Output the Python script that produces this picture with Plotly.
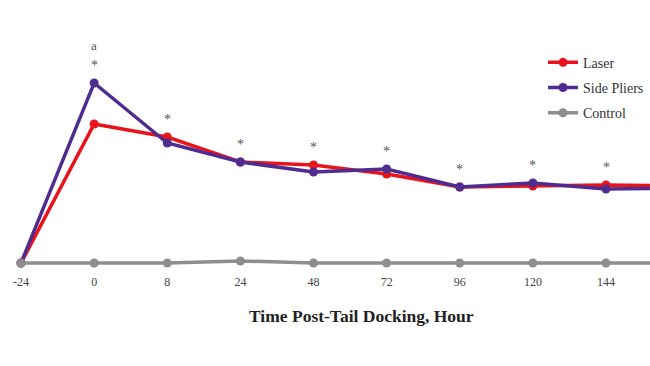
import plotly.graph_objects as go

categories = ["-24", "0", "8", "24", "48", "72", "96", "120", "144", "168"]
laser = [0, 139, 126, 101, 98, 89, 76, 77, 78, 77]
side_pliers = [0, 180, 120, 101, 91, 94, 76, 80, 74, 75]
control = [0, 0, 0, 2, 0, 0, 0, 0, 0, 0]
star_labels = ["", "*", "*", "*", "*", "*", "*", "*", "*", ""]
letter_labels = ["", "a", "", "", "", "", "", "", "", ""]
x_title = "Time Post-Tail Docking, Hour"

xs = list(range(len(categories)))
FONT = "Liberation Serif"
W, H = 650, 366

fig = go.Figure()
series = [
    ("Laser", laser, "#e8141c"),
    ("Side Pliers", side_pliers, "#4f2c8f"),
    ("Control", control, "#8e8e8e"),
]
for name, vals, col in series:
    fig.add_trace(go.Scatter(
        x=xs, y=vals, name=name, mode="lines+markers", legendgroup=name,
        line=dict(color=col, width=3.5),
        marker=dict(color=col, size=9),
    ))

for i, (s, a) in enumerate(zip(star_labels, letter_labels)):
    top = max(laser[i], side_pliers[i])
    if s:
        fig.add_annotation(x=i, y=top, text=s, showarrow=False, yshift=18,
                           font=dict(family=FONT, size=14, color="#555555"))
    if a:
        fig.add_annotation(x=i, y=top, text=a, showarrow=False, yshift=38,
                           font=dict(family=FONT, size=13, color="#555555"))

fig.add_annotation(xref="paper", yref="paper", x=361 / W, y=-46 / 250,
                   text="<b>" + x_title + "</b>", showarrow=False,
                   xanchor="center", yanchor="middle",
                   font=dict(family=FONT, size=17.5, color="#222222"))

fig.update_layout(
    width=W, height=H,
    margin=dict(l=0, r=0, t=20, b=96, autoexpand=False),
    paper_bgcolor="white", plot_bgcolor="white",
    font=dict(family=FONT, color="#333333"),
    showlegend=True,
    legend=dict(x=543 / W, y=0.893, xanchor="left", yanchor="top",
                font=dict(family=FONT, size=14, color="#333333"),
                bgcolor="rgba(0,0,0,0)", tracegroupgap=4),
    xaxis=dict(range=[-21 / 73.125, (W - 21) / 73.125],
               tickvals=xs, ticktext=categories, automargin=False,
               showgrid=False, zeroline=False, showline=False,
               ticklabelstandoff=3,
               tickfont=dict(family=FONT, size=12, color="#444444")),
    yaxis=dict(range=[-7, 243], visible=False, automargin=False),
)

fig.write_html(
    "out.html",
    config={"displayModeBar": False},
    post_script="document.body.style.margin='0';document.body.style.overflow='hidden';",
)
